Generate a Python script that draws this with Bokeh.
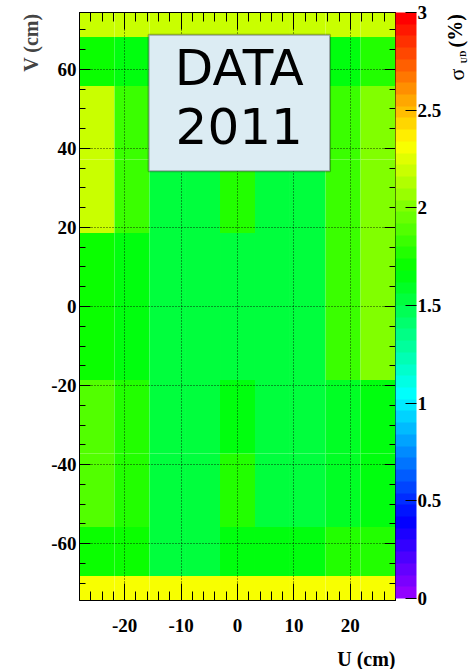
import colorsys
from bokeh.plotting import figure
from bokeh.layouts import row, column
from bokeh.models import (ColumnDataSource, LinearColorMapper, ColorBar, FixedTicker,
                          LinearAxis, Grid, BoxAnnotation, Label, Range1d, Title)
from bokeh.core.properties import value
from bokeh.embed import file_html
from bokeh.resources import INLINE

# ---------------- data ----------------
u_edges = [-28.0, -21.8, -15.6, -9.3, -3.1, 3.1, 9.3, 15.6, 21.8, 28.0]
v_edges = [-74.4, -68.2, -55.8, -37.2, -18.6, 18.6, 37.2, 55.8, 68.2, 74.4]

# sigma_UD (%) per V-row (bottom to top), one value per U-bin
row_1 = [2.31, 2.31, 2.31, 2.31, 2.31, 2.31, 2.31, 2.31, 2.31]
row_2 = [1.71, 1.71, 1.52, 1.52, 1.67, 1.67, 1.67, 1.77, 1.75]
row_3 = [1.88, 1.77, 1.52, 1.52, 1.77, 1.52, 1.52, 1.59, 1.65]
row_4 = [1.88, 1.77, 1.52, 1.52, 1.64, 1.52, 1.52, 1.59, 1.65]
row_5 = [1.71, 1.66, 1.52, 1.52, 1.52, 1.52, 1.52, 1.82, 2.02]
row_6 = [2.18, 1.81, 1.52, 1.52, 1.77, 1.52, 1.52, 1.82, 2.00]
row_7 = [2.18, 1.81, 1.55, 1.55, 1.60, 1.55, 1.55, 1.82, 2.00]
row_8 = [1.71, 1.65, 1.62, 1.62, 1.62, 1.62, 1.62, 1.65, 1.77]
row_9 = [2.19, 2.19, 2.19, 2.19, 2.19, 2.19, 2.19, 2.19, 2.19]
rows = [row_1, row_2, row_3, row_4, row_5, row_6, row_7, row_8, row_9]

x_ticks = [-20, -10, 0, 10, 20]
x_tick_labels = ["-20", "-10", "0", "10", "20"]
x_minor = [-26, -24, -22, -18, -16, -14, -12, -8, -6, -4, -2,
           2, 4, 6, 8, 12, 14, 16, 18, 22, 24, 26]
y_ticks = [-60, -40, -20, 0, 20, 40, 60]
y_tick_labels = ["-60", "-40", "-20", "0", "20", "40", "60"]
y_minor = [-70, -65, -55, -50, -45, -35, -30, -25, -15, -10, -5,
           5, 10, 15, 25, 30, 35, 45, 50, 55, 65, 70]
z_ticks = [0, 0.5, 1, 1.5, 2, 2.5, 3]
z_labels = ["0", "0.5", "1", "1.5", "2", "2.5", "3"]

# ---------------- ROOT "pretty" palette (50 colours, violet -> red) ----------------
palette = []
for i in range(50):
    hue = 280.0 - (i + 1) * (280.0 / 50)
    r, g, b = colorsys.hls_to_rgb(hue / 360.0, 0.5, 1.0)
    palette.append("#%02x%02x%02x" % (round(r * 255), round(g * 255), round(b * 255)))

mapper = LinearColorMapper(palette=palette, low=0, high=3)

left, right, bottom, top, val = [], [], [], [], []
for j, rw in enumerate(rows):
    for i, z in enumerate(rw):
        left.append(u_edges[i]); right.append(u_edges[i + 1])
        bottom.append(v_edges[j]); top.append(v_edges[j + 1])
        val.append(z)
src = ColumnDataSource(dict(left=left, right=right, bottom=bottom, top=top, val=val))

SERIF = "Liberation Serif"
U_MIN, U_MAX = -28, 28

p = figure(width=444, height=646, output_backend="svg", toolbar_location=None,
           x_range=Range1d(U_MIN, U_MAX), y_range=Range1d(-74.4, 74.4),
           x_axis_type=None, y_axis_type=None,
           min_border_left=79, min_border_right=48, min_border_top=12, min_border_bottom=46)
p.background_fill_color = "white"
p.border_fill_color = "white"
p.outline_line_color = "black"
p.outline_line_width = 1

p.quad(left="left", right="right", bottom="bottom", top="top", source=src,
       fill_color={"field": "val", "transform": mapper}, line_color=None)


def style_axis(ax, tin, tmin, labels=None):
    ax.major_tick_in = tin
    ax.major_tick_out = 0
    ax.minor_tick_in = tmin
    ax.minor_tick_out = 0
    ax.axis_line_color = "black"
    ax.major_tick_line_color = "black"
    ax.minor_tick_line_color = "black"
    if labels is not None:
        ax.major_label_overrides = labels
        ax.major_label_text_font = SERIF
        ax.major_label_text_font_style = "bold"
        ax.major_label_text_font_size = "19px"
        ax.major_label_text_color = "black"


xb = LinearAxis(ticker=FixedTicker(ticks=x_ticks, minor_ticks=x_minor))
style_axis(xb, 17, 9, {t: s for t, s in zip(x_ticks, x_tick_labels)})
xb.major_label_standoff = 18
p.add_layout(xb, "below")

yl = LinearAxis(ticker=FixedTicker(ticks=y_ticks, minor_ticks=y_minor))
style_axis(yl, 11, 6, {t: s for t, s in zip(y_ticks, y_tick_labels)})
yl.major_label_standoff = 3
p.add_layout(yl, "left")

# mirrored tick marks on the top and right frame edges (no labels)
for side, big, small, tl, ts in (("above", x_ticks, x_minor, 17, 9),
                                  ("right", y_ticks, y_minor, 11, 6)):
    for tks, ln in ((small, ts), (big, tl)):
        ax = LinearAxis(ticker=FixedTicker(ticks=[], minor_ticks=tks))
        style_axis(ax, ln, ln)
        p.add_layout(ax, side)

for dim, tk in ((0, x_ticks), (1, y_ticks)):
    g = Grid(dimension=dim, ticker=FixedTicker(ticks=tk), grid_line_color="black",
             grid_line_dash="1 2", grid_line_width=1, grid_line_alpha=0.8, level="guide")
    p.add_layout(g)

cb = ColorBar(color_mapper=mapper, ticker=FixedTicker(ticks=z_ticks),
              major_label_overrides={t: s for t, s in zip(z_ticks, z_labels)},
              width=21, height=586, margin=3, padding=0, label_standoff=1,
              major_tick_in=11, major_tick_out=0, major_tick_line_color="black",
              minor_tick_line_color=None, bar_line_color=None, border_line_color=None,
              background_fill_color=None,
              major_label_text_font=SERIF, major_label_text_font_style="bold",
              major_label_text_font_size="19px", major_label_text_color="black")
p.add_layout(cb, "right")

# y-axis title (ROOT style: at the top end of the axis)
p.add_layout(Title(text="V (cm)", align="right", vertical_align="bottom", standoff=14,
                   offset=1, text_font=SERIF, text_font_style="bold",
                   text_font_size="20px"), "left")

# DATA 2011 box
box = BoxAnnotation(left=-15.75, right=16.4, top=68.8, bottom=34.2,
                    fill_color="#dcecf3", fill_alpha=1.0, line_color="black", line_width=2,
                    level="annotation")
p.add_layout(box)
for txt, yy in (("DATA", 60.3), ("2011", 45.7)):
    p.add_layout(Label(x=0.3, y=yy, text=txt, text_align="center", text_baseline="alphabetic",
                       text_font="DejaVu Sans", text_font_size="50px", text_color="black"))

# x-axis title (ROOT style: at the right end of the U axis), in a strip below the plot
# whose horizontal frame is aligned with the main plot frame
pb = figure(width=444, height=23, output_backend="svg", toolbar_location=None,
            x_range=p.x_range, y_range=Range1d(0, 23),
            x_axis_type=None, y_axis_type=None,
            min_border_left=79, min_border_right=48, min_border_top=0, min_border_bottom=0)
pb.outline_line_color = None
pb.background_fill_color = "white"
pb.border_fill_color = "white"
pb.grid.visible = False
pb.text(x=[U_MAX], y=[0], text=["U (cm)"], text_align="right", text_baseline="bottom",
        text_font=value(SERIF), text_font_style="bold", text_font_size="20px",
        text_color="black")

# colour-bar title: sigma_UD (%)
p2 = figure(width=29, height=669, output_backend="svg", toolbar_location=None,
            x_range=Range1d(0, 29), y_range=Range1d(0, 669),
            x_axis_type=None, y_axis_type=None,
            min_border_left=0, min_border_right=0, min_border_top=0, min_border_bottom=0)
p2.outline_line_color = None
p2.background_fill_color = "white"
p2.border_fill_color = "white"
p2.grid.visible = False
p2.text(x=[12], y=[589], text=["σ"], angle=1.5708, text_align="left",
        text_baseline="alphabetic", text_font=value(SERIF), text_font_size="22px",
        text_color="black")
p2.text(x=[19], y=[606], text=["UD"], angle=1.5708, text_align="left",
        text_baseline="alphabetic", text_font=value(SERIF), text_font_style="bold",
        text_font_size="9px", text_color="black")
p2.text(x=[11], y=[622], text=["(%)"], angle=1.5708, text_align="left",
        text_baseline="alphabetic", text_font=value(SERIF), text_font_style="bold",
        text_font_size="20px", text_color="black")

layout = row(column(p, pb, spacing=0), p2, spacing=0)
open("out.html", "w").write(file_html(layout, INLINE))
